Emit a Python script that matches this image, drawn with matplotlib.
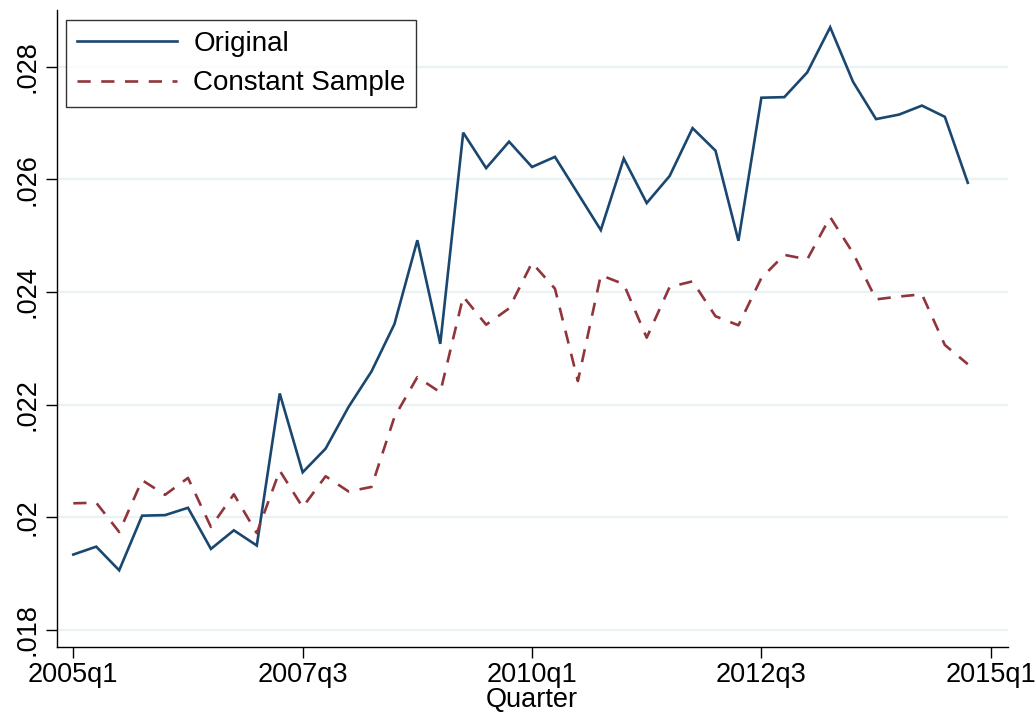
import matplotlib
matplotlib.use("Agg")
import matplotlib.pyplot as plt
from matplotlib.ticker import FixedLocator, FuncFormatter

# Quarter index 0 = 2005q1 ... 39 = 2014q4
quarters = list(range(40))
original = [0.01934, 0.01948, 0.01906, 0.02003, 0.02004, 0.02017, 0.01944, 0.01977, 0.01950, 0.02220,
            0.02080, 0.02122, 0.02196, 0.02259, 0.02343, 0.02492, 0.02308, 0.02683, 0.02620, 0.02667,
            0.02622, 0.02640, 0.02575, 0.02510, 0.02637, 0.02558, 0.02606, 0.02691, 0.02651, 0.02491,
            0.02745, 0.02746, 0.02790, 0.02870, 0.02773, 0.02707, 0.02715, 0.02731, 0.02711, 0.02594]
constant = [0.02025, 0.02026, 0.01974, 0.02066, 0.02040, 0.02070, 0.01983, 0.02041, 0.01972, 0.02083,
            0.02018, 0.02073, 0.02046, 0.02054, 0.02178, 0.02249, 0.02222, 0.02392, 0.02342, 0.02371,
            0.02452, 0.02406, 0.02242, 0.02430, 0.02414, 0.02319, 0.02409, 0.02419, 0.02357, 0.02341,
            0.02425, 0.02466, 0.02458, 0.02533, 0.02469, 0.02387, 0.02392, 0.02396, 0.02306, 0.02272]
xtick_pos = [0, 10, 20, 30, 40]
xtick_labels = ["2005q1", "2007q3", "2010q1", "2012q3", "2015q1"]
ytick_vals = [0.018, 0.020, 0.022, 0.024, 0.026, 0.028]
ytick_labels = [".018", ".02", ".022", ".024", ".026", ".028"]

plt.rcParams['font.family'] = ['Liberation Sans', 'DejaVu Sans']

W, H = 1036, 717
fig = plt.figure(figsize=(W / 100, H / 100), dpi=100)
left, right, top, bottom = 56.7, 1007.7, 10, 646.7
ax = fig.add_axes([left / W, 1 - bottom / H, (right - left) / W, (bottom - top) / H])

navy = "#1a476f"
maroon = "#90353b"
ax.plot(quarters, original, color=navy, lw=1.9, label="Original", solid_joinstyle="miter")
ax.plot(quarters, constant, color=maroon, lw=1.9, dashes=(5, 4), label="Constant Sample")

ax.set_xlim(-0.724, 40.74)
ax.set_ylim(0.017704, 0.029007)

ax.yaxis.set_major_locator(FixedLocator(ytick_vals))
ax.yaxis.set_major_formatter(FuncFormatter(lambda v, p: ytick_labels[min(range(len(ytick_vals)), key=lambda i: abs(ytick_vals[i] - v))]))
ax.set_xticks(xtick_pos)
ax.set_xticklabels(xtick_labels)

for v in ytick_vals:
    ax.axhline(v, color="#eaf2f3", lw=1.6, zorder=0)

for s in ["top", "right"]:
    ax.spines[s].set_visible(False)
for s in ["left", "bottom"]:
    ax.spines[s].set_linewidth(1.0)
    ax.spines[s].set_color("black")

fs = 19.5
ax.tick_params(axis="y", length=8, width=1, labelsize=fs, pad=4)
ax.tick_params(axis="x", length=8, width=1, labelsize=fs, pad=3)
for lab in ax.get_yticklabels():
    lab.set_rotation(90)
    lab.set_va("center")

ax.set_xlabel("Quarter", fontsize=fs, labelpad=-1)

leg = ax.legend(loc="upper left", bbox_to_anchor=(66 / W, 1 - 20 / H), bbox_transform=fig.transFigure,
                borderaxespad=0, fontsize=20, handlelength=3.6, handletextpad=0.6,
                borderpad=0.38, labelspacing=0.5, frameon=True, fancybox=False)
leg.get_frame().set_edgecolor("black")
leg.get_frame().set_linewidth(1.0)

fig.savefig("out.png", dpi=100)
